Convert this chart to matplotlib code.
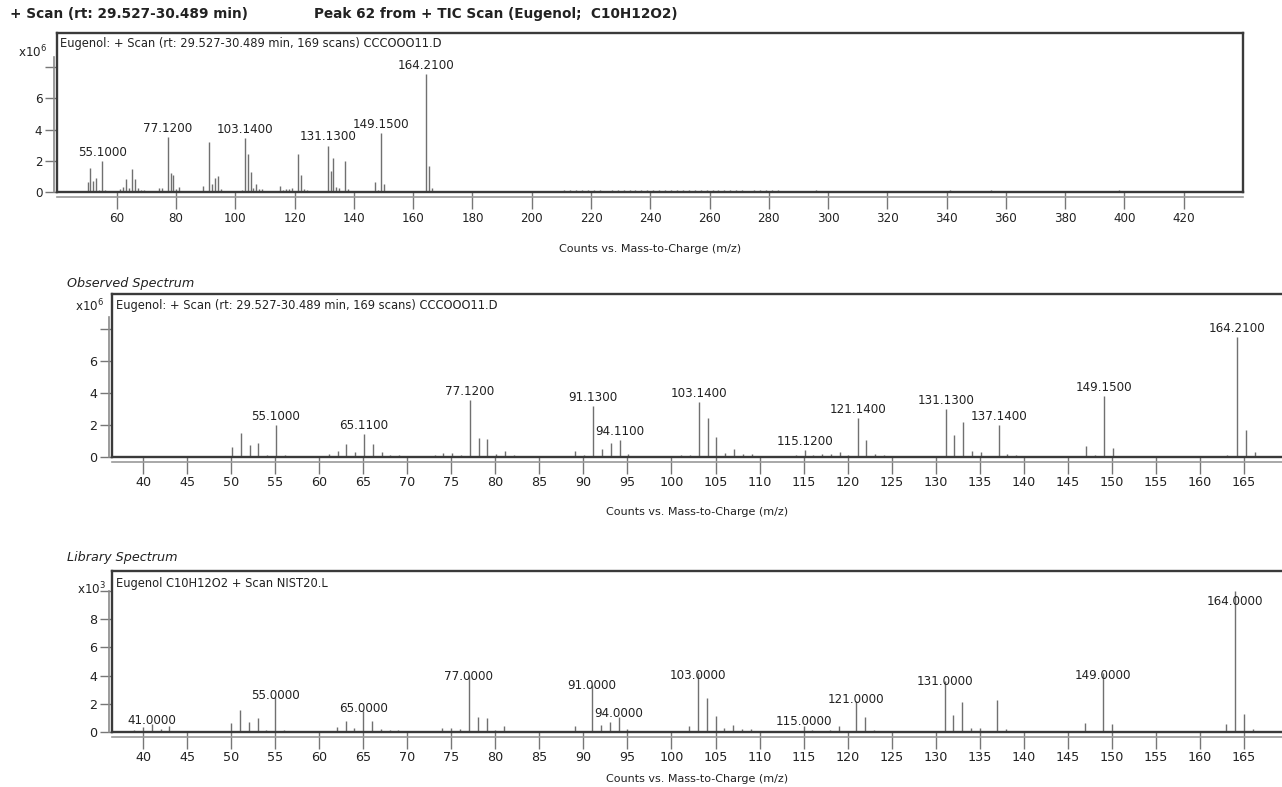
import matplotlib
matplotlib.use('Agg')
import matplotlib.pyplot as plt
from matplotlib.transforms import offset_copy

# ---------------- data ----------------
# observed spectrum (counts x10^6)
obs_mz = [50.1, 51.1, 52.1, 53.1, 54.1, 55.1, 56.1, 57.1, 58.1, 59.1, 60.1, 61.1,
          62.1, 63.1, 64.1, 65.11, 66.1, 67.1, 68.1, 69.1, 70.1, 71.1, 72.1, 73.1,
          74.1, 75.1, 76.1, 77.12, 78.1, 79.1, 80.1, 81.1, 82.1, 83.1, 84.1, 85.1,
          86.1, 87.1, 88.1, 89.1, 90.1, 91.13, 92.1, 93.1, 94.11, 95.1, 96.1, 97.1,
          98.1, 99.1, 100.1, 101.1, 102.1, 103.14, 104.1, 105.1, 106.1, 107.1, 108.1,
          109.1, 110.1, 111.1, 112.1, 113.1, 114.1, 115.12, 116.1, 117.1, 118.1,
          119.1, 120.1, 121.14, 122.1, 123.1, 124.1, 125.1, 126.1, 127.1, 128.1,
          129.1, 130.1, 131.13, 132.1, 133.1, 134.1, 135.1, 136.1, 137.14, 138.1,
          139.1, 140.1, 141.1, 142.1, 143.1, 144.1, 145.1, 146.1, 147.1, 148.1,
          149.15, 150.1, 151.1, 152.1, 153.1, 155.1, 157.1, 159.1, 161.1, 163.1,
          164.21, 165.2, 166.2]
obs_int = [0.64, 1.52, 0.75, 0.90, 0.12, 2.00, 0.15, 0.08, 0.05, 0.05, 0.06, 0.20,
           0.35, 0.83, 0.30, 1.46, 0.83, 0.30, 0.12, 0.12, 0.05, 0.04, 0.04, 0.10,
           0.25, 0.25, 0.10, 3.54, 1.20, 1.10, 0.20, 0.35, 0.10, 0.05, 0.04, 0.05,
           0.06, 0.06, 0.05, 0.40, 0.10, 3.20, 0.50, 0.90, 1.06, 0.20, 0.05, 0.04,
           0.04, 0.05, 0.05, 0.10, 0.15, 3.44, 2.46, 1.27, 0.25, 0.50, 0.20,
           0.20, 0.05, 0.04, 0.04, 0.06, 0.10, 0.42, 0.15, 0.20, 0.20,
           0.30, 0.10, 2.42, 1.08, 0.20, 0.15, 0.05, 0.04, 0.05, 0.05,
           0.06, 0.08, 2.98, 1.36, 2.20, 0.35, 0.30, 0.08, 2.00, 0.20,
           0.10, 0.06, 0.05, 0.04, 0.04, 0.05, 0.06, 0.05, 0.67, 0.15,
           3.79, 0.54, 0.08, 0.05, 0.04, 0.05, 0.04, 0.05, 0.04, 0.10,
           7.52, 1.67, 0.30]
obs_labeled = [55.1, 65.11, 77.12, 91.13, 94.11, 103.14, 115.12, 121.14, 131.13,
               137.14, 149.15, 164.21]
top_labeled = [55.1, 77.12, 103.14, 131.13, 149.15, 164.21]

# low-level signal above m/z 166 in the full scan (counts x10^6)
hi_mz = [167, 169, 171, 173, 175, 178, 181, 184, 187, 189, 191, 193, 195, 197, 199,
         202, 205, 207, 209, 211, 213, 215, 217, 219, 221, 223, 225, 227, 229, 231,
         233, 235, 237, 239, 241, 243, 245, 247, 249, 251, 253, 255, 257, 259, 261,
         263, 265, 267, 269, 271, 273, 275, 277, 279, 281, 283, 285, 288, 291, 294,
         296, 299, 303, 307, 311, 315, 319, 323, 326, 330, 334, 338, 341, 345, 349,
         352, 355, 358, 362, 367, 372, 377, 382, 387, 392, 396, 398, 401, 405, 410,
         415, 420, 425, 430]
hi_int = [0.06, 0.04, 0.07, 0.05, 0.04, 0.06, 0.05, 0.07, 0.08, 0.06, 0.09, 0.08,
          0.10, 0.09, 0.07, 0.06, 0.09, 0.11, 0.10, 0.12, 0.13, 0.12, 0.14, 0.12,
          0.13, 0.12, 0.11, 0.13, 0.14, 0.15, 0.14, 0.13, 0.12, 0.15, 0.14, 0.13,
          0.15, 0.14, 0.13, 0.14, 0.15, 0.13, 0.14, 0.13, 0.12, 0.14, 0.13, 0.12,
          0.13, 0.12, 0.11, 0.13, 0.12, 0.13, 0.14, 0.12, 0.10, 0.08, 0.06, 0.09,
          0.12, 0.07, 0.05, 0.04, 0.05, 0.04, 0.05, 0.06, 0.11, 0.05, 0.04, 0.06,
          0.12, 0.05, 0.04, 0.06, 0.12, 0.05, 0.04, 0.05, 0.04, 0.04, 0.05, 0.04,
          0.04, 0.06, 0.12, 0.07, 0.04, 0.05, 0.04, 0.04, 0.03, 0.03]

# library spectrum (counts x10^3)
lib_mz = [39, 40, 41, 42, 43, 45, 50, 51, 52, 53, 54, 55, 56, 57, 58, 61, 62, 63,
          64, 65, 66, 67, 68, 69, 74, 75, 76, 77, 78, 79, 80, 81, 89, 90, 91, 92,
          93, 94, 95, 102, 103, 104, 105, 106, 107, 108, 109, 115, 116, 117, 118,
          119, 121, 122, 123, 130, 131, 132, 133, 134, 135, 137, 138, 147, 148,
          149, 150, 163, 164, 165, 166]
lib_int = [0.15, 0.37, 0.56, 0.20, 0.45, 0.08, 0.66, 1.55, 0.68, 0.97, 0.12, 2.50,
           0.15, 0.08, 0.06, 0.10, 0.35, 0.78, 0.30, 1.49, 0.78, 0.22, 0.12, 0.12,
           0.30, 0.25, 0.20, 4.07, 1.08, 1.00, 0.15, 0.40, 0.42, 0.10, 3.35, 0.50,
           0.70, 1.05, 0.20, 0.45, 4.15, 2.38, 1.15, 0.30, 0.50, 0.20, 0.20, 0.42,
           0.12, 0.10, 0.12, 0.40, 2.20, 1.08, 0.15, 0.06, 3.60, 1.20, 2.14, 0.30,
           0.30, 2.26, 0.20, 0.66, 0.10, 4.15, 0.57, 0.57, 9.99, 1.27, 0.20]
lib_labeled = [41, 55, 65, 77, 91, 94, 103, 115, 121, 131, 149, 164]

top_xticks = list(range(60, 421, 20))
zoom_xticks = list(range(40, 166, 5))

# ---------------- figure ----------------
W, H = 1282, 787
fig = plt.figure(figsize=(W / 100, H / 100), dpi=100)
FONT = 'DejaVu Sans'
plt.rcParams['font.family'] = FONT
TXT = '#222222'
PEAK = '#707070'
FRAME = '#3a3a3a'


def rect(l, t, r, b):
    return [l / W, 1 - b / H, (r - l) / W, (b - t) / H]


def ftext(x, y, s, **kw):
    fig.text(x / W, 1 - y / H, s, va='center', color=TXT, **kw)


def style_axes(ax, xticks, yticks, ylabels, ytop_line, fs_tick):
    for sp in ax.spines.values():
        sp.set_color(FRAME)
        sp.set_linewidth(1.7)
    ax.set_xticks(xticks)
    ax.set_xticklabels([str(t) for t in xticks])
    ax.set_yticks(yticks)
    ax.set_yticklabels(ylabels)
    ax.tick_params(axis='x', direction='out', length=12, width=1.0, color='#777777',
                   pad=2, labelsize=fs_tick, labelcolor=TXT)
    ax.tick_params(axis='y', direction='out', length=9, width=1.0, color='#777777',
                   pad=1.5, labelsize=fs_tick, labelcolor=TXT)
    # secondary axis lines slightly outside the frame
    tb = offset_copy(ax.transAxes, fig=fig, x=0, y=-4.5, units='dots')
    ax.plot([0, 1], [0, 0], transform=tb, color='#9a9a9a', lw=1.2, clip_on=False)
    ax.plot([ax.get_xlim()[0]] * 2, [0, ytop_line],
            transform=offset_copy(ax.transData, fig=fig, x=-3, y=0, units='dots'),
            color='#8a8a8a', lw=1.2, clip_on=False)


# ---- top panel: full scan ----
ax1 = fig.add_axes(rect(57, 33.3, 1243, 192.3))
ax1.set_xlim(39.8, 440)
ax1.set_ylim(0, 10.13)
ax1.vlines(obs_mz, 0, obs_int, color=PEAK, lw=1.0)
ax1.vlines(hi_mz, 0, hi_int, color=PEAK, lw=1.0)
for m in top_labeled:
    h = obs_int[obs_mz.index(m)]
    ax1.annotate(f'{m:.4f}', (m, h), xytext=(0, 1.5), textcoords='offset points',
                 ha='center', va='bottom', fontsize=8.6, color=TXT)
style_axes(ax1, top_xticks, [0, 2, 4, 6, 8], ['0', '2', '4', '6', ''], 8.6, 8.6)

# ---- middle panel: observed ----
ax2 = fig.add_axes(rect(112, 294, 1288, 457))
ax2.set_xlim(36.48, 170)
ax2.set_ylim(0, 10.2)
ax2.spines['right'].set_visible(False)
ax2.vlines(obs_mz, 0, obs_int, color=PEAK, lw=1.0)
for m in obs_labeled:
    h = obs_int[obs_mz.index(m)]
    ax2.annotate(f'{m:.4f}', (m, h), xytext=(0, 1.5), textcoords='offset points',
                 ha='center', va='bottom', fontsize=8.6, color=TXT)
style_axes(ax2, zoom_xticks, [0, 2, 4, 6, 8], ['0', '2', '4', '6', ''], 8.75, 9.2)

# ---- bottom panel: library ----
ax3 = fig.add_axes(rect(112, 571, 1288, 732))
ax3.set_xlim(36.48, 170)
ax3.set_ylim(0, 11.4)
ax3.spines['right'].set_visible(False)
ax3.vlines(lib_mz, 0, lib_int, color=PEAK, lw=1.0)
for m in lib_labeled:
    h = lib_int[lib_mz.index(m)]
    ax3.text(m, 0.887 * h + 0.35, f'{m:.4f}', ha='center', va='center',
             fontsize=8.6, color=TXT)
style_axes(ax3, zoom_xticks, [0, 2, 4, 6, 8, 10], ['0', '2', '4', '6', '8', ''], 9.95, 9.2)

# ---------------- texts ----------------
ftext(10, 14, '+ Scan (rt: 29.527-30.489 min)', fontsize=9.8, fontweight='bold')
ftext(314, 14, 'Peak 62 from + TIC Scan (Eugenol;  C10H12O2)', fontsize=9.8,
      fontweight='bold')

ftext(18, 52, r'x10$^{6}$', fontsize=8.6)
ftext(60, 44, 'Eugenol: + Scan (rt: 29.527-30.489 min, 169 scans) CCCOOO11.D', fontsize=8.3)
ftext(650, 249, 'Counts vs. Mass-to-Charge (m/z)', fontsize=8.0, ha='center')

ftext(67, 283, 'Observed Spectrum', fontsize=9.2, style='italic')
ftext(75, 306, r'x10$^{6}$', fontsize=8.6)
ftext(116, 305, 'Eugenol: + Scan (rt: 29.527-30.489 min, 169 scans) CCCOOO11.D', fontsize=8.3)
ftext(697, 512, 'Counts vs. Mass-to-Charge (m/z)', fontsize=8.0, ha='center')

ftext(67, 557, 'Library Spectrum', fontsize=9.2, style='italic')
ftext(77, 589, r'x10$^{3}$', fontsize=8.6)
ftext(116, 583, 'Eugenol C10H12O2 + Scan NIST20.L', fontsize=8.3)
ftext(697, 779, 'Counts vs. Mass-to-Charge (m/z)', fontsize=8.0, ha='center')

fig.savefig('out.png', dpi=100, facecolor='white')
